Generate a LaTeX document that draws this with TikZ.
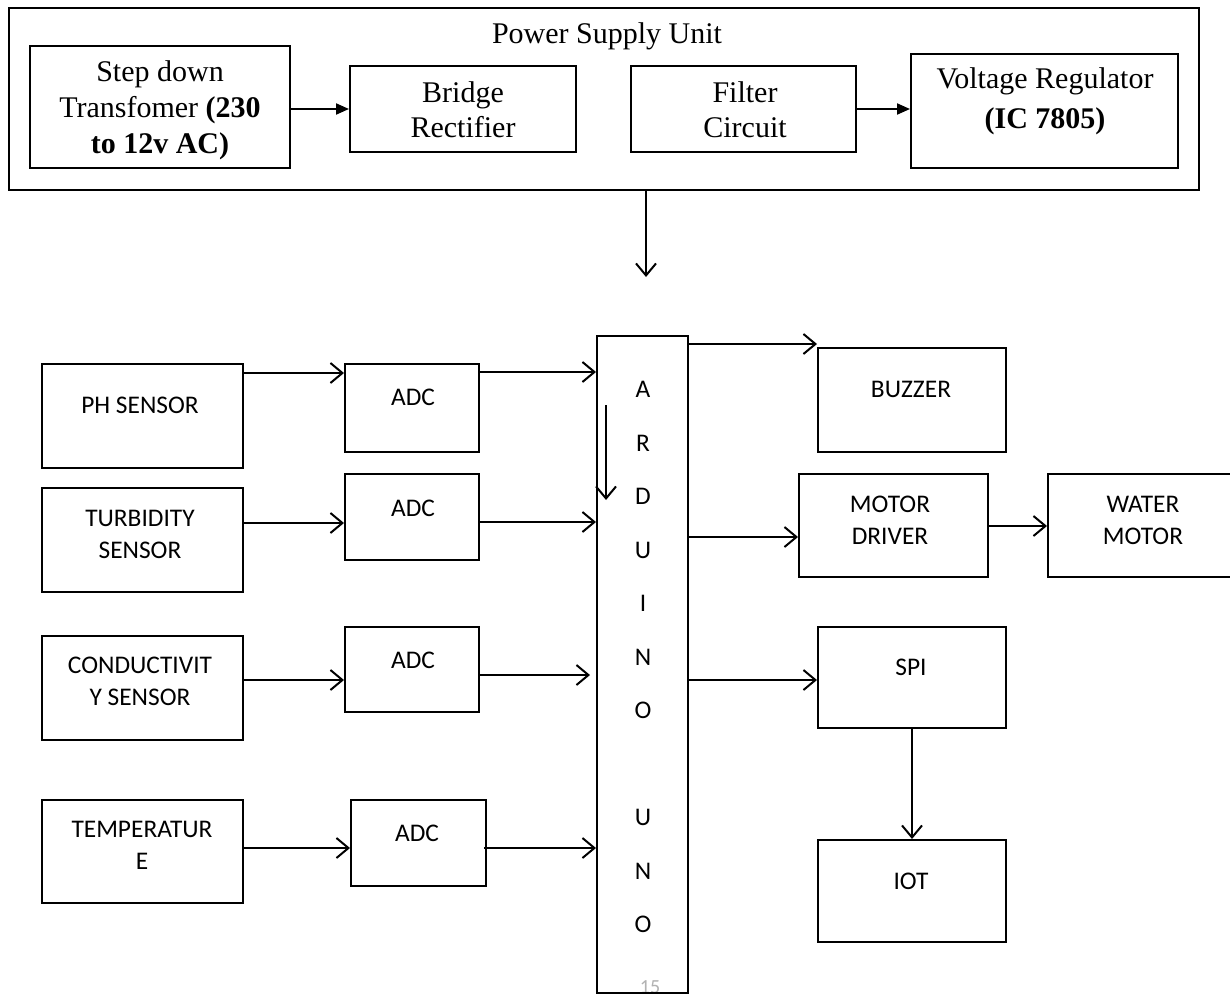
\documentclass[tikz,border=0pt]{standalone}
\usepackage{fontspec}
\setmainfont{Liberation Serif}
\newfontfamily\calib{Carlito}
\usetikzlibrary{arrows.meta,calc}
\begin{document}
\begin{tikzpicture}[x=0.5pt,y=-0.5pt,
 box/.style={draw, line width=1pt, inner sep=0pt},
 serif/.style={font=\fontsize{15}{18}\selectfont, align=center, inner sep=0pt},
 sans/.style={font=\calib\fontsize{12.7}{16}\selectfont, align=center, inner sep=0pt},
 tri/.style={line width=1pt, -{Triangle[length=6.5pt,width=5.5pt]}},
 barb/.style={line width=1pt, -{Straight Barb[length=6pt,width=10pt]}}]
\path[use as bounding box, fill=white] (0,0) rectangle (1230,996);

% power supply
\node[box, minimum width=595pt, minimum height=91pt] (psu) at (604,99) {};
\node[serif] (psuT) at (607,36) {Power Supply Unit};
\node[box, minimum width=130pt, minimum height=61pt] (step) at (160,107) {};
\node[serif] (stepT) at (160,110) {Step down\\Transfomer \textbf{(230}\\\textbf{to 12v AC)}};
\node[box, minimum width=113pt, minimum height=43pt] (bridge) at (463,109) {};
\node[serif, font=\fontsize{15}{17.5}\selectfont] (bridgeT) at (463,110) {Bridge\\Rectifier};
\node[box, minimum width=112.5pt, minimum height=43pt] (filter) at (743.5,109) {};
\node[serif, font=\fontsize{15}{17.5}\selectfont] (filterT) at (745,110) {Filter\\Circuit};
\node[box, minimum width=133.5pt, minimum height=57pt] (vreg) at (1044.5,111) {};
\node[serif, font=\fontsize{15}{20}\selectfont] (vregT) at (1045,101) {Voltage Regulator\\\textbf{(IC 7805)}};

\draw[tri] (step.east |- bridge.west) -- (bridge.west);
\draw[tri] (filter.east) -- (filter.east -| vreg.west);
\coordinate (pdn) at (646,277);
\draw[barb] (psu.south -| pdn) -- (pdn);

% arduino
\node[gray!60, font=\calib\fontsize{10}{10}\selectfont, inner sep=0pt] (pg) at (650,987) {15};
\node[box, minimum width=45.5pt, minimum height=328.5pt] (ard) at (642.5,664.5) {};
\node[sans, font=\calib\fontsize{12.7}{26.75}\selectfont] (ardT) at (643,657) {A\\R\\D\\U\\I\\N\\O\\\mbox{}\\U\\N\\O};
\coordinate (ia) at (606,405);
\coordinate (ib) at (606,500);
\draw[barb] (ia) -- (ib);

% sensors
\node[box, minimum width=100.5pt, minimum height=52pt] (ph) at (142.5,416) {};
\node[sans] (phT) at (140,405) {PH SENSOR};
\node[box, minimum width=67pt, minimum height=44pt] (adc1) at (412,408) {};
\node[sans] (adc1T) at (413,397) {ADC};
\node[box, minimum width=100.5pt, minimum height=52pt] (turb) at (142.5,540) {};
\node[sans] (turbT) at (140,534) {TURBIDITY\\SENSOR};
\node[box, minimum width=67pt, minimum height=43pt] (adc2) at (412,517) {};
\node[sans] (adc2T) at (413,508) {ADC};
\node[box, minimum width=100.5pt, minimum height=52pt] (cond) at (142.5,688) {};
\node[sans] (condT) at (140,681) {CONDUCTIVIT\\Y SENSOR};
\node[box, minimum width=67pt, minimum height=42.5pt] (adc3) at (412,669.5) {};
\node[sans] (adc3T) at (413,660) {ADC};
\node[box, minimum width=100.5pt, minimum height=51.5pt] (temp) at (142.5,851.5) {};
\node[sans] (tempT) at (142,845) {TEMPERATUR\\E};
\node[box, minimum width=67.5pt, minimum height=43pt] (adc4) at (418.5,843) {};
\node[sans] (adc4T) at (417,833) {ADC};

\draw[barb] (ph.east |- 0,373) -- (adc1.west |- 0,373);
\draw[barb] (adc1.east |- 0,372) -- (ard.west |- 0,372);
\draw[barb] (turb.east |- 0,523) -- (adc2.west |- 0,523);
\draw[barb] (adc2.east |- 0,522) -- (ard.west |- 0,522);
\draw[barb] (cond.east |- 0,680) -- (adc3.west |- 0,680);
\draw[barb, shorten >=3pt] (adc3.east |- 0,675) -- (ard.west |- 0,675);
\draw[barb] (temp.east |- 0,848) -- (adc4.west |- 0,848);
\draw[barb] ([xshift=-1.5pt]adc4.east |- 0,848) -- (ard.west |- 0,848);

% outputs
\node[box, minimum width=94pt, minimum height=52pt] (buzzer) at (912,400) {};
\node[sans] (buzzerT) at (911,389) {BUZZER};
\node[box, minimum width=94.5pt, minimum height=51.5pt] (md) at (893.5,525.5) {};
\node[sans] (mdT) at (890,520) {MOTOR\\DRIVER};
\node[box, minimum width=93pt, minimum height=51.5pt] (wm) at (1141,525.5) {};
\node[sans] (wmT) at (1143,520) {WATER\\MOTOR};
\node[box, minimum width=94pt, minimum height=50.5pt] (spi) at (912,677.5) {};
\node[sans] (spiT) at (911,667) {SPI};
\node[box, minimum width=94pt, minimum height=51pt] (iot) at (912,891) {};
\node[sans] (iotT) at (911,881) {IOT};

\draw[barb] (ard.east |- 0,344) -- (buzzer.west |- 0,344);
\draw[barb] (ard.east |- 0,537) -- (md.west |- 0,537);
\draw[barb] (md.east |- 0,526) -- (wm.west |- 0,526);
\draw[barb] (ard.east |- 0,680) -- (spi.west |- 0,680);
\draw[barb] (spi.south) -- (iot.north);
\end{tikzpicture}
\end{document}
